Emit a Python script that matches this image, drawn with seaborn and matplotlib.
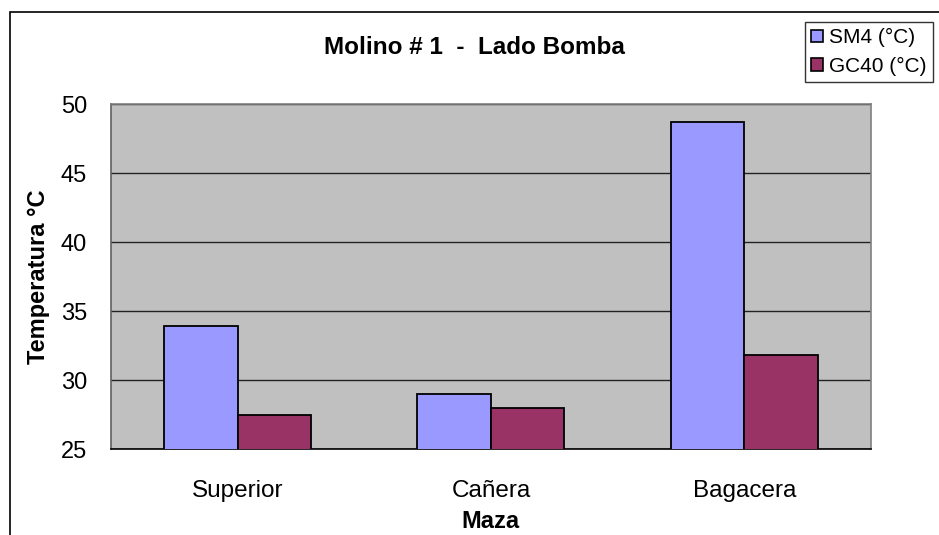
import pandas as pd
import seaborn as sns
import matplotlib.pyplot as plt
from matplotlib.patches import Rectangle

# Data
categorias = ["Superior", "Cañera", "Bagacera"]
sm4 = [33.9, 29.0, 48.7]
gc40 = [27.5, 28.0, 31.8]
series = ["SM4 (°C)", "GC40 (°C)"]
colores = ["#9999FF", "#993366"]
y_ticks = [25, 30, 35, 40, 45, 50]

df = pd.DataFrame({
    "Maza": categorias * 2,
    "Serie": [series[0]] * 3 + [series[1]] * 3,
    "Temp": sm4 + gc40,
})

sns.set_style("white")
plt.rcParams['font.family'] = ['Liberation Sans', 'DejaVu Sans']
plt.rcParams['text.color'] = 'black'
plt.rcParams['axes.labelcolor'] = 'black'
plt.rcParams['xtick.color'] = 'black'
plt.rcParams['ytick.color'] = 'black'

fig = plt.figure(figsize=(9.39, 5.35), dpi=100)
ax = fig.add_axes([0.118, 0.1607, 0.8096, 0.6449])

sns.barplot(data=df, x="Maza", y="Temp", hue="Serie", palette=colores,
            saturation=1, width=0.58, edgecolor="black", linewidth=1.3,
            ax=ax, legend=False, zorder=3)

ax.set_facecolor("#C0C0C0")
ax.set_ylim(25, 50)
ax.set_xlim(-0.5, 2.5)
ax.set_yticks(y_ticks)
ax.set_yticklabels([str(t) for t in y_ticks], fontsize=17)
ax.yaxis.grid(True, color="#222222", linewidth=1)
ax.set_axisbelow(True)

ax.set_xticks(range(3))
ax.set_xticklabels(categorias, fontsize=17.5)
ax.set_xticks([-0.5, 0.5, 1.5, 2.5], minor=True)
ax.tick_params(axis="x", which="major", length=0, pad=22)
ax.tick_params(axis="x", which="minor", length=7, width=1, color="black")
ax.tick_params(axis="y", length=7, width=1, color="black", direction="out", pad=10)

for s in ["top", "right"]:
    ax.spines[s].set_color("#808080")
ax.spines["left"].set_color("#606060")
ax.spines["bottom"].set_color("black")
for s in ax.spines.values():
    s.set_linewidth(1.2)

ax.set_xlabel("Maza", fontsize=17, fontweight="bold", labelpad=6)
ax.set_ylabel("Temperatura °C", fontsize=17, fontweight="bold", labelpad=8)

fig.text(0.505, 0.912, "Molino # 1  -  Lado Bomba", ha="center", va="center",
         fontsize=17.5, fontweight="bold")

# outer chart border
fig.add_artist(Rectangle((10 / 939, -0.05), 1.0, 1 - 12 / 535 + 0.05,
                         transform=fig.transFigure, fill=False,
                         edgecolor="black", linewidth=1.2))

handles = [Rectangle((0, 0), 1, 1, facecolor=c, edgecolor="black", linewidth=1.2)
           for c in colores]
fig.legend(handles, series, loc="upper left", bbox_to_anchor=(805 / 939, 1 - 22 / 535),
           frameon=True, fancybox=False, edgecolor="black", fontsize=15,
           handlelength=0.55, handleheight=0.55, handletextpad=0.3,
           borderpad=0.3, labelspacing=0.45, borderaxespad=0)

plt.savefig("out.png", dpi=100)
